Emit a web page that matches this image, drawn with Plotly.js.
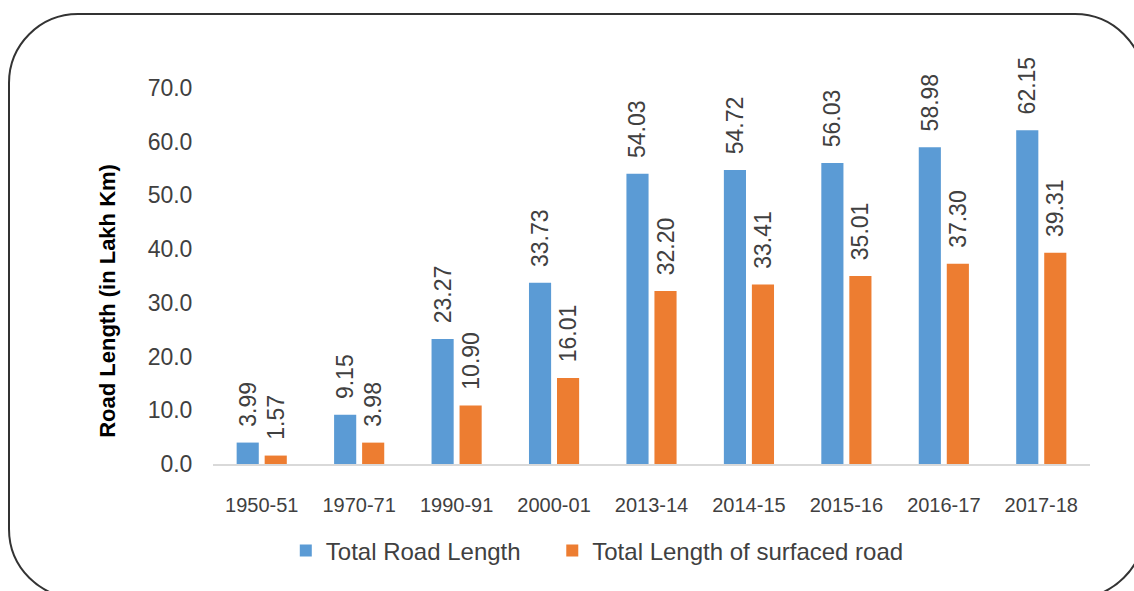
<!DOCTYPE html>
<html>
<head>
<meta charset="utf-8">
<script src="https://cdn.plot.ly/plotly-3.0.1.min.js"></script>
<style>
  html, body { margin: 0; padding: 0; background: #fff; overflow: hidden; }
  #wrap { position: relative; width: 1134px; height: 591px; }
  #chart { position: absolute; left: 0; top: 0; width: 1134px; height: 591px; }
  #frame {
    position: absolute; left: 8px; top: 13px; width: 1137px; height: 586px;
    box-sizing: border-box; border: 2px solid #333; border-radius: 70px;
    pointer-events: none;
  }
</style>
</head>
<body>
<div id="wrap">
  <div id="chart"></div>
  <div id="frame"></div>
</div>
<script>
// road length in lakh km
const years = ['1950-51', '1970-71', '1990-91', '2000-01', '2013-14', '2014-15', '2015-16', '2016-17', '2017-18'];
const totalRoad = [3.99, 9.15, 23.27, 33.73, 54.03, 54.72, 56.03, 58.98, 62.15];
const surfacedRoad = [1.57, 3.98, 10.90, 16.01, 32.20, 33.41, 35.01, 37.30, 39.31];
const yTicks = [0, 10, 20, 30, 40, 50, 60, 70];

const fontFamily = '"Liberation Sans", Arial, sans-serif';
const textColor = '#404040';
const labelPad = '\u00a0\u00a0'; // pushes the rotated labels up off the bars
const legendPad = '\u00a0\u00a0\u00a0\u00a0'; // wider gap between legend entries

function barTrace(name, values, color) {
    return {
        type: 'bar',
        name: name,
        x: years,
        y: values,
        marker: { color: color },
        text: values.map(v => labelPad + v.toFixed(2)),
        textposition: 'outside',
        textangle: -90,
        constraintext: 'none',
        cliponaxis: false,
        textfont: { family: fontFamily, size: 23, color: textColor },
        hoverinfo: 'x+y'
    };
}

const data = [
    barTrace('Total Road Length' + legendPad, totalRoad, '#5B9BD5'),
    barTrace('Total Length of surfaced road', surfacedRoad, '#ED7D31')
];

const layout = {
    width: 1134,
    height: 591,
    margin: { l: 213, r: 44, t: 88, b: 127 },
    paper_bgcolor: '#fff',
    plot_bgcolor: '#fff',
    font: { family: fontFamily, color: textColor },
    barmode: 'group',
    bargap: 0.425,
    bargroupgap: 0.21,
    showlegend: true,
    legend: {
        orientation: 'h',
        x: 0.083, xanchor: 'left',
        y: -0.231, yanchor: 'middle',
        font: { family: fontFamily, size: 24, color: textColor },
        itemwidth: 30,
        traceorder: 'normal'
    },
    xaxis: {
        type: 'category',
        showline: true,
        linecolor: '#d9d9d9',
        linewidth: 2,
        ticks: 'outside',
        ticklen: 22,
        tickcolor: 'rgba(0,0,0,0)',
        tickfont: { family: fontFamily, size: 20, color: textColor },
        showgrid: false,
        zeroline: false
    },
    yaxis: {
        range: [0, 70],
        tickvals: yTicks,
        ticktext: yTicks.map(v => v.toFixed(1)),
        ticks: 'outside',
        ticklen: 15,
        tickcolor: 'rgba(0,0,0,0)',
        tickfont: { family: fontFamily, size: 23, color: textColor },
        showgrid: false,
        zeroline: false,
        showline: false
    },
    annotations: [{
        text: 'Road Length (in Lakh Km)',
        xref: 'paper', yref: 'paper',
        x: -0.1197, y: 0.434,
        xanchor: 'center', yanchor: 'middle',
        textangle: -90,
        showarrow: false,
        font: { family: fontFamily, size: 22, color: '#000', weight: 'bold' }
    }]
};

Plotly.newPlot('chart', data, layout, { displayModeBar: false, staticPlot: true });
</script>
</body>
</html>
